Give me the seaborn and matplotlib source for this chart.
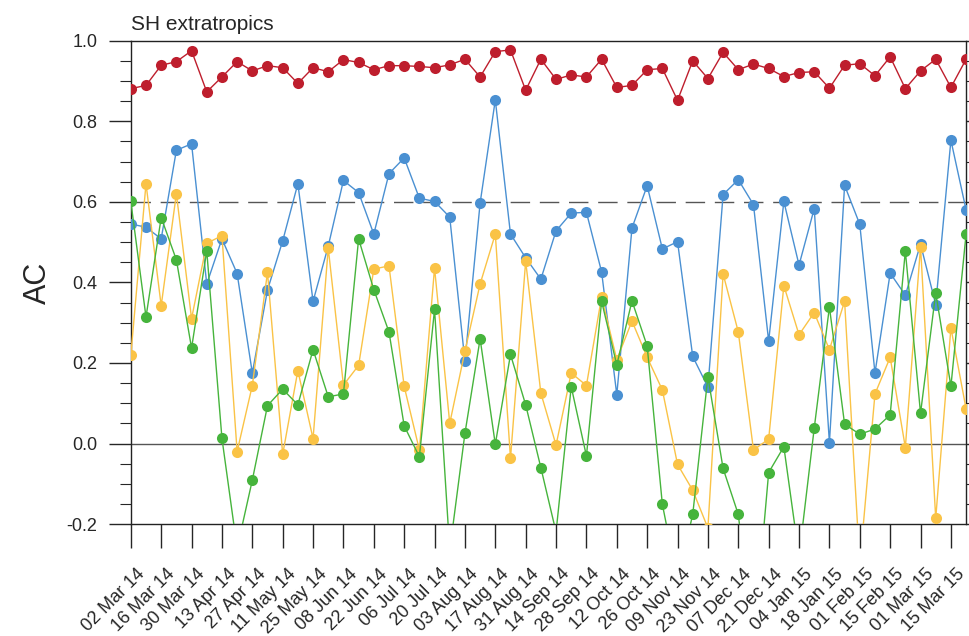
import pandas as pd
import numpy as np
import matplotlib
matplotlib.use("Agg")
import matplotlib.pyplot as plt
import matplotlib.dates as mdates
import matplotlib.transforms as mtransforms
from matplotlib.ticker import MultipleLocator, FormatStrFormatter
import seaborn as sns

# weekly verification dates
dates = pd.date_range("2014-03-02", periods=56, freq="7D")

red = [0.881, 0.889, 0.939, 0.948, 0.975, 0.873, 0.910, 0.948, 0.925, 0.938, 0.933, 0.894, 0.933, 0.923,
       0.953, 0.946, 0.928, 0.938, 0.938, 0.936, 0.933, 0.940, 0.954, 0.910, 0.973, 0.977, 0.877, 0.954,
       0.904, 0.915, 0.910, 0.954, 0.884, 0.889, 0.928, 0.931, 0.852, 0.950, 0.906, 0.971,
       0.928, 0.942, 0.931, 0.911, 0.921, 0.923, 0.882, 0.939, 0.943, 0.913, 0.960, 0.881, 0.925, 0.954, 0.884, 0.954]
blue = [0.545, 0.537, 0.508, 0.728, 0.744, 0.396, 0.508, 0.422, 0.175, 0.381, 0.503, 0.645, 0.353, 0.490,
        0.653, 0.623, 0.520, 0.670, 0.709, 0.609, 0.601, 0.562, 0.204, 0.597, 0.853, 0.520, 0.461, 0.408,
        0.528, 0.572, 0.574, 0.426, 0.121, 0.535, 0.640, 0.483, 0.501, 0.216, 0.140, 0.618,
        0.655, 0.593, 0.254, 0.601, 0.443, 0.583, 0.002, 0.641, 0.544, 0.175, 0.423, 0.368, 0.495, 0.345, 0.753, 0.580]
orange = [0.219, 0.645, 0.342, 0.620, 0.310, 0.497, 0.516, -0.020, 0.144, 0.425, -0.027, 0.181, 0.012, 0.485,
          0.145, 0.194, 0.433, 0.441, 0.142, -0.016, 0.436, 0.050, 0.229, 0.396, 0.520, -0.037, 0.453, 0.125,
          -0.004, 0.175, 0.144, 0.364, 0.208, 0.304, 0.214, 0.133, -0.052, -0.116, -0.21, 0.421,
          0.277, -0.016, 0.011, 0.392, 0.270, 0.325, 0.233, 0.353, -0.30, 0.123, 0.214, -0.010, 0.489, -0.186, 0.287, 0.086]
green = [0.601, 0.314, 0.561, 0.456, 0.237, 0.478, 0.013, -0.26, -0.091, 0.094, 0.135, 0.096, 0.233, 0.116,
         0.123, 0.508, 0.382, 0.277, 0.044, -0.033, 0.333, -0.265, 0.025, 0.260, -0.002, 0.221, 0.096, -0.060,
         -0.22, 0.141, -0.031, 0.353, 0.195, 0.354, 0.242, -0.151, -0.34, -0.176, 0.166, -0.062,
         -0.176, -0.50, -0.072, -0.008, -0.28, 0.038, 0.339, 0.048, 0.023, 0.036, 0.071, 0.478, 0.075, 0.374, 0.142, 0.520]

series_names = ["red", "blue", "orange", "green"]
colors = ["#be1e2d", "#4a90d2", "#fac346", "#46b43c"]

df = pd.DataFrame({"date": dates, "red": red, "blue": blue, "orange": orange, "green": green})
df_long = df.melt(id_vars="date", var_name="series", value_name="AC")

sns.set_style("ticks")
plt.rcParams["font.family"] = ["Liberation Sans", "DejaVu Sans"]
plt.rcParams["axes.unicode_minus"] = False

fig = plt.figure(figsize=(9.69, 6.36), dpi=100)
ax = fig.add_axes([0.135, 0.176, 0.862, 0.76])

ax.axhline(0.0, color="#555555", lw=1.0, zorder=1)
ax.axhline(0.6, color="#555555", lw=1.0, ls=(0, (14, 7)), zorder=1)

sns.lineplot(data=df_long, x="date", y="AC", hue="series", hue_order=series_names,
             palette=colors, marker="o", markersize=8, markeredgewidth=0, lw=1.0,
             legend=False, ax=ax, zorder=3)

ax.set_xlim(dates[0], dates[-1])
ax.set_ylim(-0.2, 1.0)

ax.yaxis.set_major_locator(MultipleLocator(0.2))
ax.yaxis.set_minor_locator(MultipleLocator(0.05))
ax.yaxis.set_major_formatter(FormatStrFormatter("%.1f"))
ax.set_xticks(dates[::2])
ax.xaxis.set_major_formatter(mdates.DateFormatter("%d %b %y"))

ax.tick_params(axis="y", which="major", direction="out", length=16, width=1.0,
               labelsize=13, right=True, pad=8)
ax.tick_params(axis="y", which="minor", direction="out", length=8, width=0.8, right=True)
ax.tick_params(axis="x", which="major", direction="out", length=17, width=1.0, labelsize=13, pad=2)

# shift rotated date labels a little right and down, like the original layout
offset = mtransforms.ScaledTranslation(5 / 100, -15 / 100, fig.dpi_scale_trans)
for lab in ax.get_xticklabels():
    lab.set_rotation(45)
    lab.set_ha("right")
    lab.set_va("top")
    lab.set_rotation_mode("anchor")
    lab.set_transform(lab.get_transform() + offset)

for s in ax.spines.values():
    s.set_linewidth(1.0)
    s.set_color("#222222")

ax.set_xlabel("")
ax.set_ylabel("AC", fontsize=22, labelpad=10)
ax.set_title("SH extratropics", loc="left", fontsize=15, pad=8)

fig.savefig("out.png", dpi=100)
